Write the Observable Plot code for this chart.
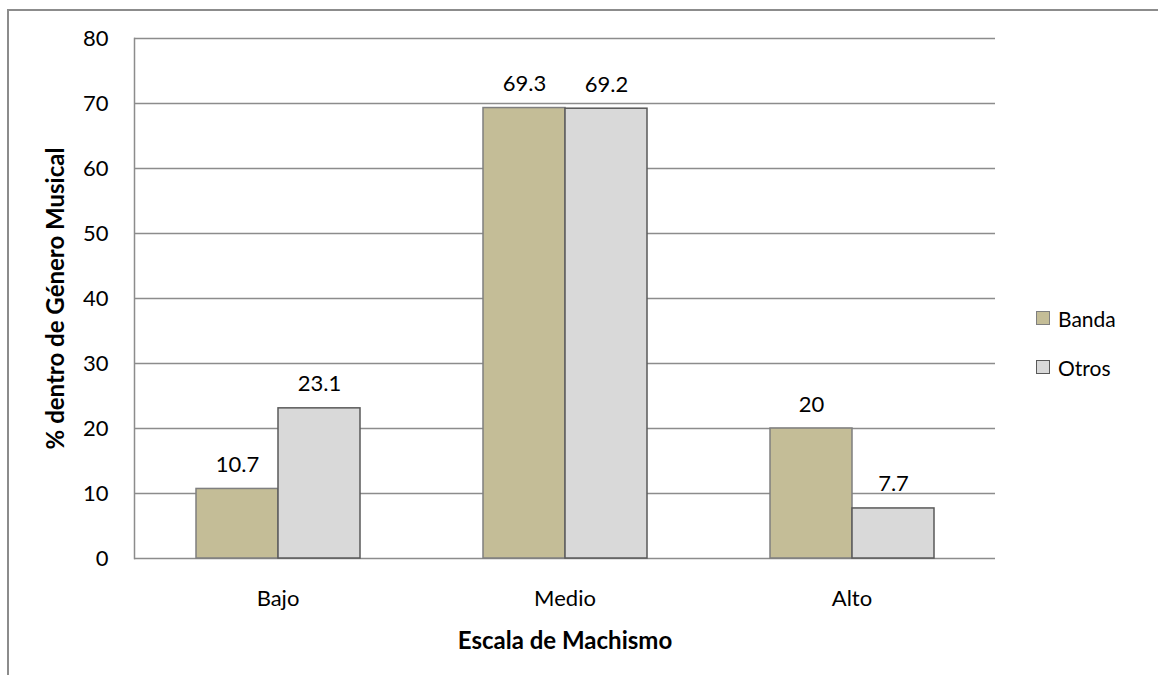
<!DOCTYPE html>
<html><head><meta charset="utf-8">
<script src="https://cdn.jsdelivr.net/npm/d3@7"></script>
<script src="https://cdn.jsdelivr.net/npm/@observablehq/plot@0.6"></script>
<style>
body{margin:0;background:#fff;font-family:Lato,"Open Sans",sans-serif;}
#wrap{position:relative;width:1158px;height:675px;overflow:hidden;}
#frame{position:absolute;left:7px;top:9px;width:1200px;height:720px;border:2px solid #8c8c8c;box-sizing:border-box;pointer-events:none}
#chart{position:absolute;left:0;top:0}
#legend{position:absolute;left:1036px;top:305px;font-size:21px;color:#000}
.item{display:flex;align-items:center;height:26px;margin-bottom:23px}
.sw{width:12px;height:12px;border:1.5px solid #7f7f7f;margin-right:8px}
</style></head>
<body><div id="wrap"><div id="chart"></div><div id="frame"></div><div id="legend"></div></div>
<script>
const categories = ["Bajo", "Medio", "Alto"];
const series = ["Banda", "Otros"];
const banda = [10.7, 69.3, 20];
const otros = [23.1, 69.2, 7.7];
const yTicks = [0, 10, 20, 30, 40, 50, 60, 70, 80];
const fills = ["#c4bd97", "#d9d9d9"];
const strokes = ["#7f7f7f", "#595959"];

const data = [];
categories.forEach((c, i) => {
  data.push({cat: c, series: "Banda", value: banda[i]});
  data.push({cat: c, series: "Otros", value: otros[i]});
});

const plot = Plot.plot({
  width: 1158, height: 675,
  marginLeft: 133, marginRight: 163, marginTop: 38, marginBottom: 117,
  style: {fontFamily: "Lato, 'Open Sans', sans-serif", fontSize: "22px", color: "#000", background: "transparent"},
  fx: {domain: categories, padding: 0, label: "Escala de Machismo"},
  x: {domain: series, paddingInner: 0, paddingOuter: 0.74, axis: null},
  y: {domain: [0, 80], label: "% dentro de Género Musical"},
  color: {domain: series, range: fills},
  marks: [
    Plot.ruleY(yTicks, {stroke: "#8c8c8c", strokeWidth: 1.5}),
    Plot.frame({anchor: "left", fx: ["Bajo"], stroke: "#8c8c8c", strokeWidth: 1.5}),
    Plot.barY(data, {fx: "cat", x: "series", y: "value", fill: "series",
      stroke: d => strokes[series.indexOf(d.series)], strokeWidth: 1.5}),
    Plot.text(data, {fx: "cat", x: "series", y: "value", text: d => String(d.value),
      dy: -24, fontSize: 22, fill: "#000"}),
    Plot.axisY({ticks: yTicks, tickSize: 0, tickPadding: 26, fontSize: 22,
      label: "% dentro de Género Musical", labelArrow: "none", labelAnchor: "center", labelOffset: 88}),
    Plot.axisFx({anchor: "bottom", tickSize: 0, tickPadding: 32, fontSize: 22,
      label: "Escala de Machismo", labelArrow: "none", labelAnchor: "center", labelOffset: 90})
  ]
});
plot.querySelectorAll('[aria-label="fx-axis label"] text, [aria-label="y-axis label"] text')
  .forEach(t => { t.setAttribute("font-size", "24"); t.setAttribute("font-weight", "bold"); });
document.getElementById("chart").appendChild(plot);

const legend = document.getElementById("legend");
series.forEach((s, i) => {
  const it = document.createElement("div"); it.className = "item";
  const sw = document.createElement("div"); sw.className = "sw";
  sw.style.background = fills[i]; sw.style.borderColor = strokes[i];
  const t = document.createElement("span"); t.textContent = s;
  it.appendChild(sw); it.appendChild(t); legend.appendChild(it);
});
</script></body></html>
